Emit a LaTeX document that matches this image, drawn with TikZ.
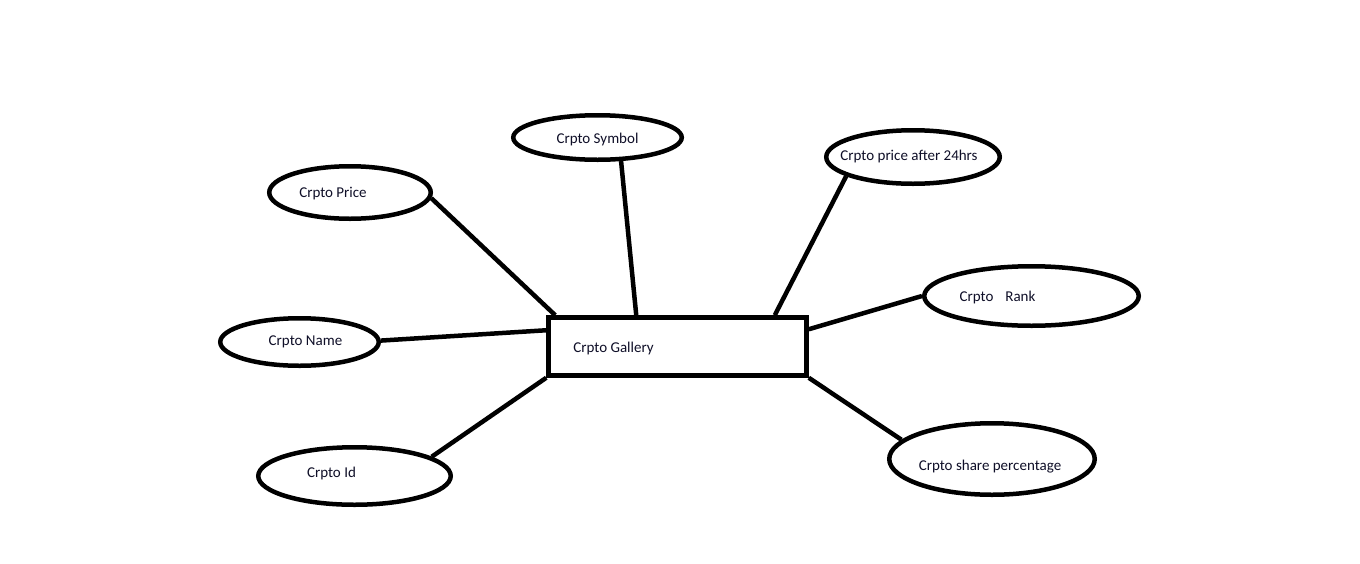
\documentclass[tikz,border=0pt]{standalone}
\usepackage{fontspec}
\setmainfont{Carlito}
\usetikzlibrary{shapes.geometric,calc}
\definecolor{inkline}{RGB}{0,0,0}
\definecolor{inktext}{RGB}{15,15,40}
\begin{document}
\begin{tikzpicture}[x=1pt,y=-1pt,
  attr/.style={ellipse,draw=inkline,line width=4.5pt,inner sep=0pt,fill=white},
  entity/.style={rectangle,draw=inkline,line width=4.5pt,inner sep=0pt,fill=white,
    minimum width=258pt,minimum height=58pt},
  link/.style={draw=inkline,line width=4.5pt},
  txt/.style={text=inktext,font=\fontsize{15}{18}\selectfont}]
\useasboundingbox[fill=white] (0,0) rectangle (1360,563);

% central entity
\node[entity,label={[txt,xshift=-64pt,yshift=-1.5pt]center:Crpto Gallery}] (gal) at (677.5,346.5) {};

% attributes
\node[attr,minimum width=168.5pt,minimum height=44.5pt,
  label={[txt,yshift=-1.5pt]center:Crpto Symbol}] (sym) at (597.5,137.5) {};
\node[attr,minimum width=173.5pt,minimum height=53.5pt,
  label={[txt,xshift=-4pt,yshift=0.5pt]center:Crpto price after 24hrs}] (p24) at (913,157) {};
\node[attr,minimum width=161.5pt,minimum height=52.5pt,
  label={[txt,xshift=-17pt,yshift=-1.5pt]center:Crpto Price}] (price) at (350,192.5) {};
\node[attr,minimum width=214.5pt,minimum height=59.5pt,
  label={[txt,xshift=-34pt,yshift=-1.5pt]center:Crpto\hspace{12pt}Rank}] (rank) at (1031.5,296) {};
\node[attr,minimum width=158.5pt,minimum height=47.5pt,
  label={[txt,xshift=6pt,yshift=0.5pt]center:Crpto Name}] (name) at (299.5,342) {};
\node[attr,minimum width=192.5pt,minimum height=57.5pt,
  label={[txt,xshift=-23pt,yshift=2.5pt]center:Crpto Id}] (id) at (354.5,476) {};
\node[attr,minimum width=205.5pt,minimum height=71.5pt,
  label={[txt,xshift=-2pt,yshift=-7.5pt]center:Crpto share percentage}] (share) at (992,459) {};

% connectors
\draw[link] (price.-4) -- ($(gal.north west)+(9,0)$);
\draw[link] (sym.-45) -- ($(gal.north west)+(90,0)$);
\draw[link] (p24.-164) -- ($(gal.north east)+(-34,0)$);
\draw[link] (rank.180) -- ($(gal.north east)+(0,14)$);
\draw[link] (name.1) -- ($(gal.north west)+(0,15)$);
\draw[link] (id.14) -- (gal.south west);
\draw[link] (share.168) -- (gal.south east);
\end{tikzpicture}
\end{document}
